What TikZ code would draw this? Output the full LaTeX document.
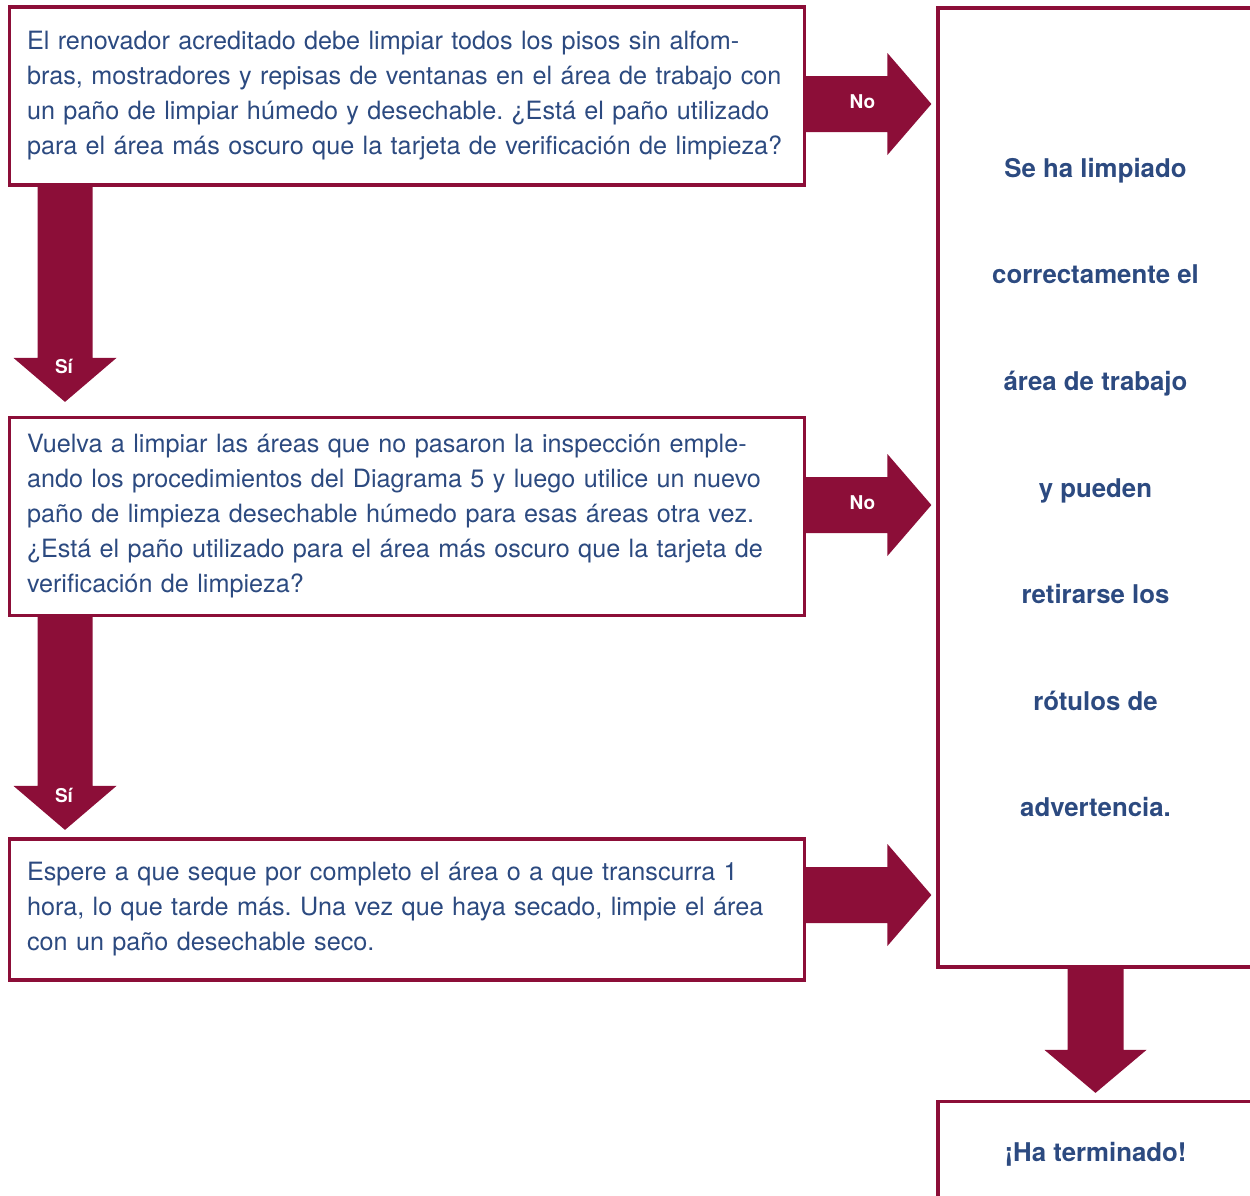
\documentclass[tikz,border=0pt]{standalone}
\usepackage{fontspec}
\setmainfont{TeX Gyre Heros}
\usetikzlibrary{calc}
\definecolor{flowred}{RGB}{140,14,56}
\definecolor{inkblue}{RGB}{44,74,128}
\frenchspacing

\begin{document}
\begin{tikzpicture}[x=0.5pt, y=-0.5pt,
        stepbox/.style={draw=flowred, line width=1.6pt, rectangle, text=inkblue, align=left,
            inner xsep=8.75pt, text width=380pt, minimum width=397.5pt,
            font=\fontsize{12.6}{17.5}\selectfont},
        endbox/.style={draw=flowred, line width=1.6pt, rectangle, text=inkblue, align=center,
            minimum width=157.5pt, font=\bfseries\fontsize{12.9}{53.3}\selectfont},
        flow/.style={fill=flowred},
        tag/.style={text=white, inner sep=0pt, font=\bfseries\fontsize{9.5}{11}\selectfont}]
    \useasboundingbox (0,0) rectangle (1250,1196);

    % boxes
    \node[stepbox, minimum height=89pt] (check) at (407,96) {El renovador acreditado debe limpiar todos los pisos sin alfom-\\bras, mostradores y repisas de ventanas en el área de trabajo con\\un paño de limpiar húmedo y desechable. ¿Está el paño utilizado\\para el área más oscuro que la tarjeta de verificación de limpieza?};
    \node[stepbox, minimum height=99pt] (reclean) at (407,516.5) {Vuelva a limpiar las áreas que no pasaron la inspección emple-\\ando los procedimientos del Diagrama 5 y luego utilice un nuevo\\paño de limpieza desechable húmedo para esas áreas otra vez.\\¿Está el paño utilizado para el área más oscuro que la tarjeta de\\verificación de limpieza?};
    \node[stepbox, minimum height=70.5pt] (wait) at (407,909.5) {Espere a que seque por completo el área o a que transcurra 1\\hora, lo que tarde más. Una vez que haya secado, limpie el área\\con un paño desechable seco.};
    \node[endbox, minimum height=479.5pt] (cleared) at (1095.5,487.5) {Se ha limpiado\\correctamente el\\área de trabajo\\y pueden\\retirarse los\\rótulos de\\advertencia.};
    \node[endbox, minimum height=52.5pt, font=\bfseries\fontsize{12.9}{15}\selectfont] (done) at (1095.5,1154) {¡Ha terminado!};

    % arrow ends
    \coordinate (no1s) at (check.east |- 0,104);
    \coordinate (no1t) at ($(cleared.west |- 0,104)+(-5,0)$);
    \coordinate (no2s) at (reclean.east |- 0,505);
    \coordinate (no2t) at ($(cleared.west |- 0,505)+(-5,0)$);
    \coordinate (go3s) at (wait.east |- 0,895);
    \coordinate (go3t) at ($(cleared.west |- 0,895)+(-5,0)$);
    \coordinate (si1s) at (check.south -| 65,0);
    \coordinate (si1t) at ($(reclean.north -| 65,0)+(0,-14)$);
    \coordinate (si2s) at (reclean.south -| 65,0);
    \coordinate (si2t) at ($(wait.north -| 65,0)+(0,-7.5)$);
    \coordinate (ends) at (cleared.south);
    \coordinate (endt) at ($(done.north)+(0,-7)$);

    % arrows to the right
    \fill[flow] ($(no1s)+(0,-28)$) -- ($(no1t)+(-44,-28)$) -- ($(no1t)+(-44,-51)$) -- (no1t) -- ($(no1t)+(-44,51)$) -- ($(no1t)+(-44,28)$) -- ($(no1s)+(0,28)$) -- cycle;
    \fill[flow] ($(no2s)+(0,-28)$) -- ($(no2t)+(-44,-28)$) -- ($(no2t)+(-44,-51)$) -- (no2t) -- ($(no2t)+(-44,51)$) -- ($(no2t)+(-44,28)$) -- ($(no2s)+(0,28)$) -- cycle;
    \fill[flow] ($(go3s)+(0,-28)$) -- ($(go3t)+(-44,-28)$) -- ($(go3t)+(-44,-51)$) -- (go3t) -- ($(go3t)+(-44,51)$) -- ($(go3t)+(-44,28)$) -- ($(go3s)+(0,28)$) -- cycle;

    % arrows down
    \fill[flow] ($(si1s)+(-27.5,0)$) -- ($(si1t)+(-27.5,-44)$) -- ($(si1t)+(-51.5,-44)$) -- (si1t) -- ($(si1t)+(51.5,-44)$) -- ($(si1t)+(27.5,-44)$) -- ($(si1s)+(27.5,0)$) -- cycle;
    \fill[flow] ($(si2s)+(-27.5,0)$) -- ($(si2t)+(-27.5,-44)$) -- ($(si2t)+(-51.5,-44)$) -- (si2t) -- ($(si2t)+(51.5,-44)$) -- ($(si2t)+(27.5,-44)$) -- ($(si2s)+(27.5,0)$) -- cycle;
    \fill[flow] ($(ends)+(-28,0)$) -- ($(endt)+(-28,-43)$) -- ($(endt)+(-51,-43)$) -- (endt) -- ($(endt)+(51,-43)$) -- ($(endt)+(28,-43)$) -- ($(ends)+(28,0)$) -- cycle;

    % labels
    \node[tag] (no1) at ($(no1t)+(-69,-2)$) {No};
    \node[tag] (no2) at ($(no2t)+(-69,-2)$) {No};
    \node[tag] (si1) at ($(si1t)+(-1,-35)$) {Sí};
    \node[tag] (si2) at ($(si2t)+(-1,-34)$) {Sí};
\end{tikzpicture}
\end{document}
